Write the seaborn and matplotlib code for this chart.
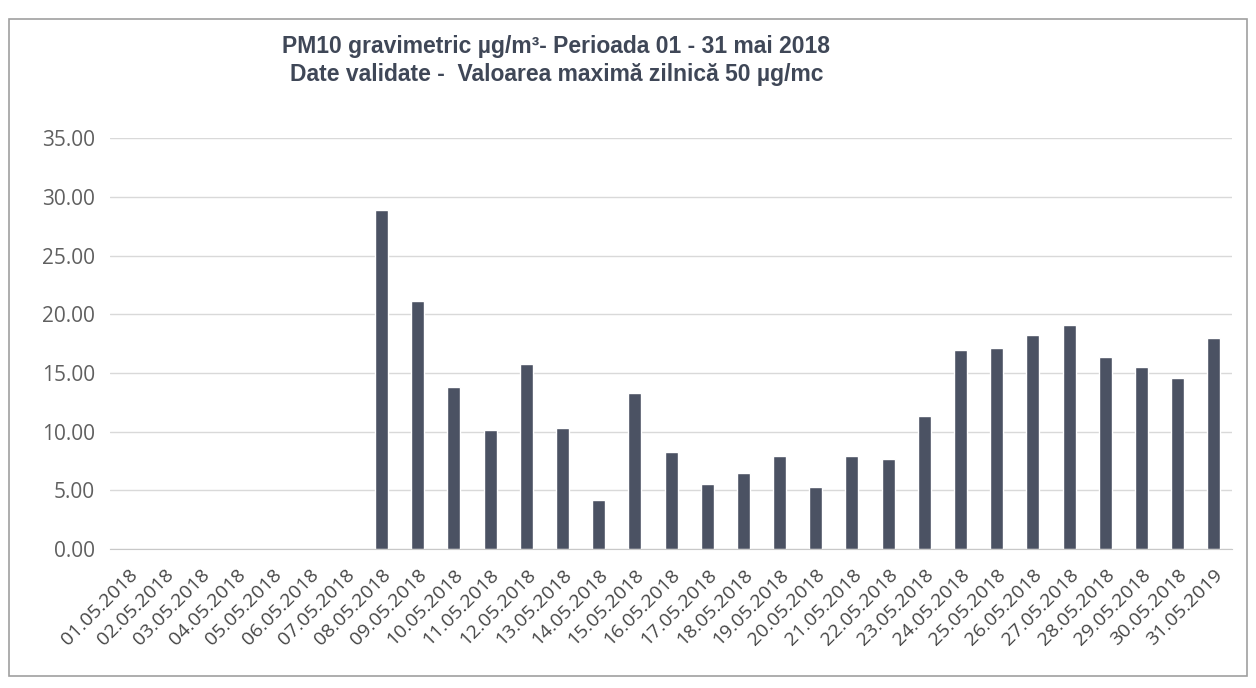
import numpy as np
import pandas as pd
import seaborn as sns
import matplotlib.pyplot as plt
from matplotlib.patches import Rectangle

# Daily PM10 values, May 2018 (no data for the first week)
dates = ['01.05.2018', '02.05.2018', '03.05.2018', '04.05.2018', '05.05.2018',
         '06.05.2018', '07.05.2018', '08.05.2018', '09.05.2018', '10.05.2018',
         '11.05.2018', '12.05.2018', '13.05.2018', '14.05.2018', '15.05.2018',
         '16.05.2018', '17.05.2018', '18.05.2018', '19.05.2018', '20.05.2018',
         '21.05.2018', '22.05.2018', '23.05.2018', '24.05.2018', '25.05.2018',
         '26.05.2018', '27.05.2018', '28.05.2018', '29.05.2018', '30.05.2018',
         '31.05.2019']
pm10 = [np.nan, np.nan, np.nan, np.nan, np.nan, np.nan, np.nan,
        28.9, 21.1, 13.8, 10.1, 15.8, 10.3, 4.2, 13.3, 8.3, 5.5, 6.5,
        7.9, 5.3, 7.9, 7.7, 11.3, 17.0, 17.1, 18.2, 19.1, 16.4, 15.5,
        14.6, 18.0]
yticks = [0, 5, 10, 15, 20, 25, 30, 35]

df = pd.DataFrame({'Data': dates, 'PM10': pm10})

sns.set_style('white')
plt.rcParams['font.family'] = ['Open Sans', 'DejaVu Sans']

fig = plt.figure(figsize=(12.56, 6.88), dpi=100)
ax = fig.add_axes([0.0876, 0.202, 0.8933, 0.597])

sns.barplot(data=df, x='Data', y='PM10', order=dates, color='#4b5263',
            saturation=1, width=0.36, ax=ax)

ax.set_ylim(0, 35)
ax.set_xlim(-0.5, len(dates) - 0.5)
ax.set_yticks(yticks)
ax.set_yticklabels([f'{v:.2f}' for v in yticks], fontsize=15, color='#606060')
ax.yaxis.grid(True, color='#d9d9d9', linewidth=1)
ax.set_axisbelow(True)
ax.set_xlabel('')
ax.set_ylabel('')
ax.tick_params(axis='y', length=0, pad=11)

# tick marks between categories
ax.set_xticks(np.arange(len(dates)))
ax.set_xticklabels(dates, rotation=45, ha='right', rotation_mode='anchor',
                   fontsize=14, color='#454545')
ax.set_xticks(np.arange(len(dates) + 1) - 0.5, minor=True)
ax.tick_params(axis='x', which='major', length=0, pad=12)
ax.tick_params(axis='x', which='minor', length=5, color='#d0d0d0', direction='out')

for side in ['top', 'right', 'left']:
    ax.spines[side].set_visible(False)
ax.spines['bottom'].set_color('#c8c8c8')

fig.text(0.443, 0.932, 'PM10 gravimetric µg/m³- Perioada 01 - 31 mai 2018',
         ha='center', va='center', fontsize=16.5, fontweight='bold',
         color='#3f4757', family=['Liberation Sans', 'DejaVu Sans'])
fig.text(0.443, 0.892, 'Date validate -  Valoarea maximă zilnică 50 µg/mc',
         ha='center', va='center', fontsize=16.5, fontweight='bold',
         color='#3f4757', family=['Liberation Sans', 'DejaVu Sans'])

# chart frame
fig.patches.append(Rectangle((0.007, 0.018), 0.986, 0.955, transform=fig.transFigure,
                             fill=False, edgecolor='#a0a0a0', linewidth=1.2))

fig.savefig('out.png', dpi=100)
